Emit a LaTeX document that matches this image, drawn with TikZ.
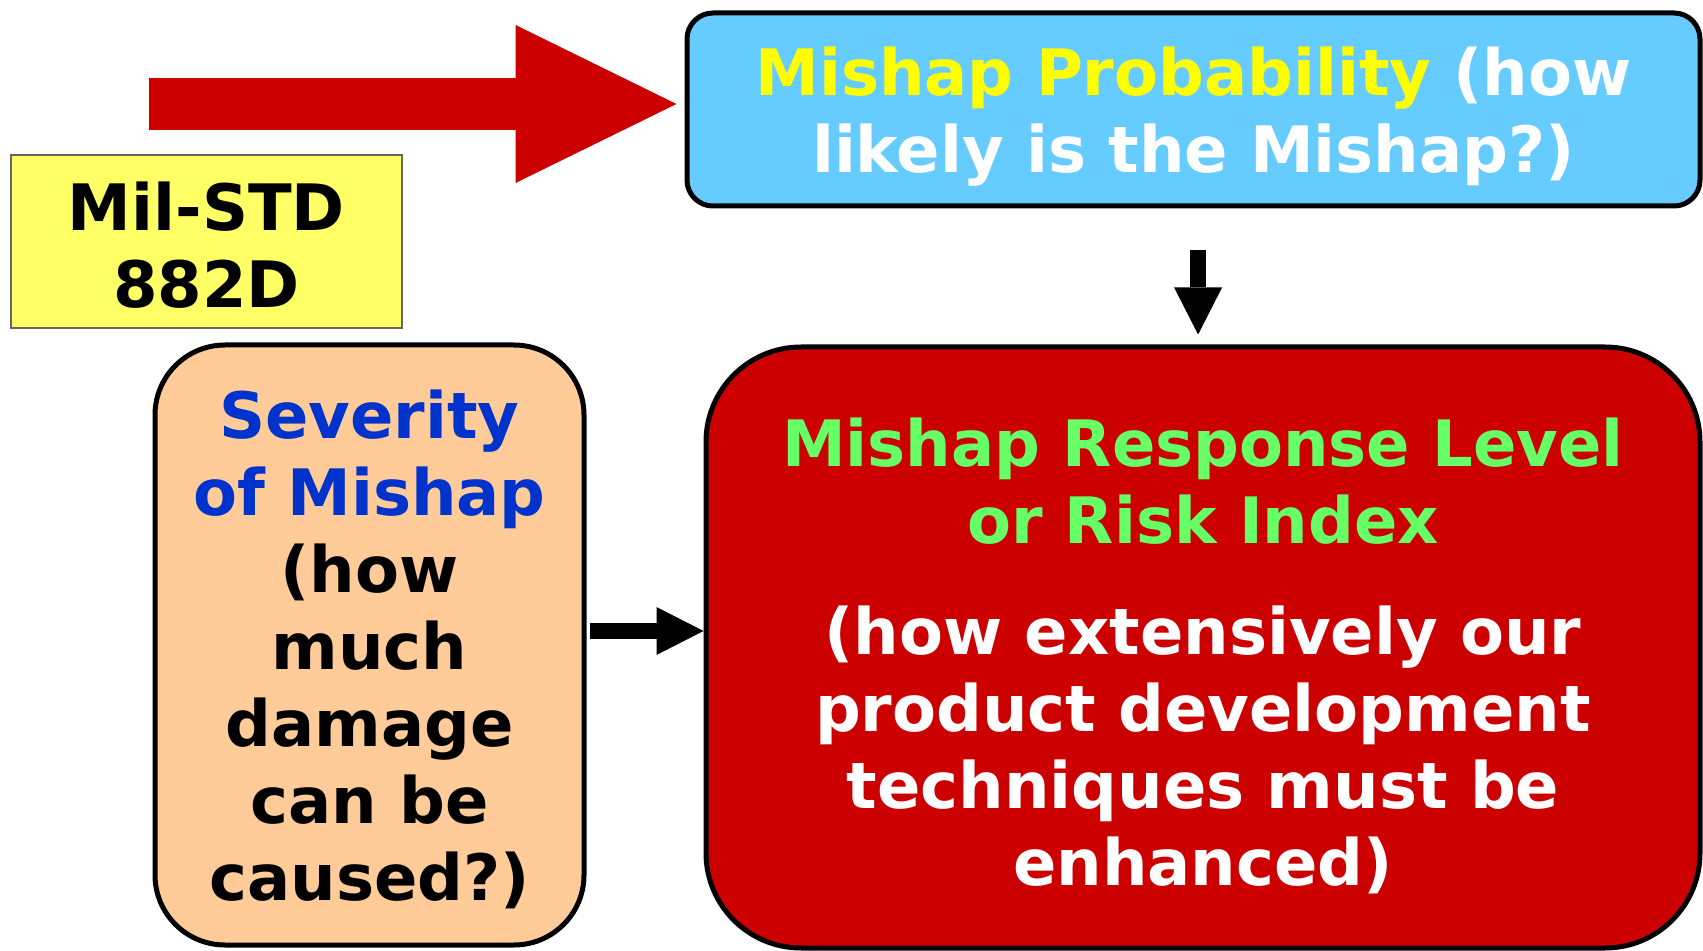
\documentclass[tikz,border=0pt]{standalone}
\usepackage{fontspec}
\setmainfont{DejaVu Sans}
\usetikzlibrary{arrows.meta,positioning}

\definecolor{skyblue}{HTML}{66CCFF}
\definecolor{paleyellow}{HTML}{FFFF66}
\definecolor{peach}{HTML}{FFCC99}
\definecolor{mishapred}{HTML}{CC0000}
\definecolor{litegreen}{HTML}{66FF66}
\definecolor{royal}{HTML}{0033CC}
\definecolor{titleyellow}{HTML}{FFFF00}

\tikzset{
  box/.style={draw=black, line width=2.5pt, inner sep=0pt},
  boxtext/.style={align=center, inner sep=0pt,
    font=\bfseries\fontsize{32}{38.5}\selectfont},
  probbox/.style={box, fill=skyblue, rounded corners=13pt,
    minimum width=506.5pt, minimum height=96.5pt},
  sevbox/.style={box, fill=peach, rounded corners=35pt,
    minimum width=214.5pt, minimum height=300pt},
  respbox/.style={box, fill=mishapred, rounded corners=47.5pt,
    minimum width=497pt, minimum height=300.5pt},
  stdbox/.style={box, draw=black!60, line width=0.7pt, fill=paleyellow,
    minimum width=195.5pt, minimum height=86.5pt},
  bigarrow/.style={draw=mishapred, line width=26pt,
    -{Triangle[length=80.5pt,width=79pt,line width=0pt,fill=mishapred]}},
  blkarrow/.style={draw=black, line width=8pt,
    -{Triangle[length=23.5pt,width=24pt,line width=0pt]}}
}

\begin{document}
\begin{tikzpicture}[x=0.5pt,y=-0.5pt]
  \useasboundingbox (0,0) rectangle (1703,951);
  \clip (0,0) rectangle (1703,951);

  % boxes
  \node[probbox] (prob) at (1193.5,109.5) {};
  \node[stdbox] (std) at (206.5,241.5) {};
  \node[sevbox] (sev) at (369.5,645) {};
  \node[respbox] (resp) at (1203,647.5) {};

  % texts
  \node[boxtext, text=white] (probtxt) at ([yshift=-3.3pt]prob.center)
    {\textcolor{titleyellow}{Mishap Probability} (how\\likely is the Mishap?)};
  \node[boxtext, text=black] (stdtxt) at ([yshift=-2pt]std.center) {Mil-STD\\882D};
  \node[boxtext, text=black] (sevtxt) at ([yshift=-2pt]sev.center)
    {\textcolor{royal}{Severity}\\\textcolor{royal}{of Mishap}\\(how\\much\\damage\\can be\\caused?)};
  \node[boxtext, text=white] (resptxt) at ([yshift=-4.3pt]resp.center)
    {\textcolor{litegreen}{Mishap Response Level}\\\textcolor{litegreen}{or Risk Index}\\[17pt]
     (how extensively our\\product development\\techniques must be\\enhanced)};

  % arrows
  \coordinate (redtail) at (149,104);
  \draw[bigarrow, shorten >=4pt] (redtail) -- (redtail -| prob.west);
  \draw[blkarrow, shorten <=21pt, shorten >=5pt] ([xshift=2.3pt]prob.south) -- ([xshift=2.3pt]prob.south |- resp.north);
  \draw[blkarrow, shorten <=1.5pt, shorten >=0pt] ([yshift=7pt]sev.east) -- ([yshift=7pt]sev.east -| resp.west);
\end{tikzpicture}
\end{document}
